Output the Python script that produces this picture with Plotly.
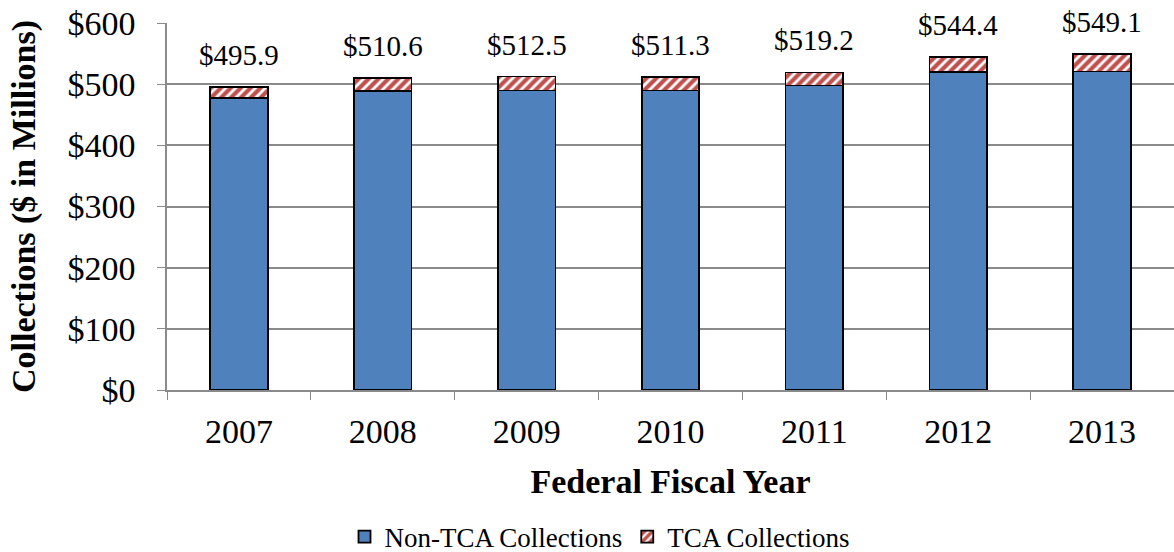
import plotly.graph_objects as go

# Collections by federal fiscal year ($ in millions)
years = ["2007", "2008", "2009", "2010", "2011", "2012", "2013"]
non_tca = [477.6, 488.4, 489.6, 489.6, 497.8, 519.9, 520.6]
tca = [18.3, 22.2, 22.9, 21.7, 21.4, 24.5, 28.5]
totals = [495.9, 510.6, 512.5, 511.3, 519.2, 544.4, 549.1]
y_ticks = [0, 100, 200, 300, 400, 500, 600]

FONT = "Liberation Serif, Times New Roman, serif"
GRID = "#8a8a8a"

fig = go.Figure()
fig.add_trace(go.Bar(
    x=years, y=non_tca, name="Non-TCA Collections",
    marker=dict(color="#4F81BD", line=dict(color="black", width=1.8)),
))
fig.add_trace(go.Bar(
    x=years, y=tca, name="TCA Collections",
    marker=dict(
        color="white",
        line=dict(color="black", width=1.8),
        pattern=dict(shape="/", fgcolor="#C0504D", bgcolor="white",
                     fgopacity=1, size=7, solidity=0.6),
    ),
))

# Total labels; on a category axis, numeric-looking names are read as
# serial positions, so the category index is used for placement.
for i, tot in enumerate(totals):
    fig.add_annotation(
        x=i, y=tot, text=f"${tot:.1f}", showarrow=False,
        yshift=32, bgcolor="white", borderpad=4,
        font=dict(family=FONT, size=29, color="black"),
    )

fig.update_layout(
    width=1174, height=552,
    margin=dict(l=167, r=0, t=23, b=162, autoexpand=False),
    barmode="stack", bargap=0.6,
    plot_bgcolor="white", paper_bgcolor="white",
    font=dict(family=FONT, color="black"),
    showlegend=True,
    legend=dict(
        orientation="h", x=0.4295, xanchor="center",
        yref="container", y=0.027, yanchor="middle",
        font=dict(family=FONT, size=27), traceorder="normal",
        itemwidth=30,
    ),
    xaxis=dict(
        type="category", categoryorder="array", categoryarray=years,
        range=[-0.5, len(years) - 0.5], automargin=False,
        showline=True, linecolor=GRID, linewidth=1.5,
        ticks="outside", tickson="boundaries", ticklen=8, tickcolor=GRID,
        tickfont=dict(family=FONT, size=34), ticklabelstandoff=10,
        title=dict(text="<b>Federal Fiscal Year</b>",
                   font=dict(family=FONT, size=34), standoff=21),
    ),
    yaxis=dict(
        range=[0, 600], tickvals=y_ticks, automargin=False,
        ticktext=[f"${v}" for v in y_ticks],
        showgrid=True, gridcolor=GRID, gridwidth=1.5,
        showline=True, linecolor=GRID, linewidth=1.5,
        ticks="outside", ticklen=8, tickcolor=GRID,
        tickfont=dict(family=FONT, size=34), ticklabelstandoff=15,
        zeroline=False,
        title=dict(text="<b>Collections ($ in Millions)</b>",
                   font=dict(family=FONT, size=34), standoff=22),
    ),
)

fig.write_html("out.html")
